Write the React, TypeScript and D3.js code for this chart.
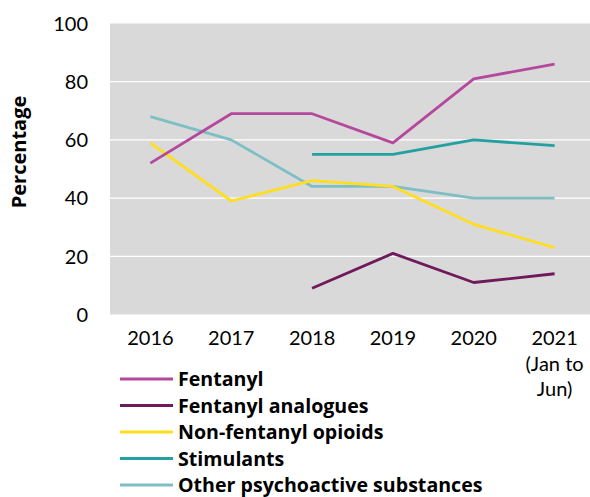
import React, { useEffect, useRef } from 'react';
import * as d3 from 'd3';

const years = ['2016', '2017', '2018', '2019', '2020', '2021'];
const yTicks = [0, 20, 40, 60, 80, 100];

const fentanyl = [52, 69, 69, 59, 81, 86];
const fentanylAnalogues = [null, null, 9, 21, 11, 14];
const nonFentanylOpioids = [59, 39, 46, 44, 31, 23];
const stimulants = [null, null, 55, 55, 60, 58];
const otherPsychoactive = [68, 60, 44, 44, 40, 40];

const seriesNames = ['Fentanyl', 'Fentanyl analogues', 'Non-fentanyl opioids', 'Stimulants', 'Other psychoactive substances'];
const seriesColors = ['#B5489C', '#701A5C', '#FFDE20', '#22A0A2', '#7DBFC4'];

const W = 590;
const H = 497;
const font = 'Lato, "Open Sans", sans-serif';
const boldFont = '"Open Sans", Lato, sans-serif';

export default function App() {
  const svgRef = useRef<SVGSVGElement>(null);

  useEffect(() => {
    if (!svgRef.current) return;
    const svg = d3.select(svgRef.current);
    svg.selectAll('*').remove();

    const margin = { top: 23.5, left: 110, bottom: 314.5 };
    const x = d3.scaleBand<string>().domain(years).range([110, 595]);
    const y = d3.scaleLinear().domain([0, 100]).range([margin.bottom, margin.top]);

    // Plot background
    svg.append('rect')
      .attr('x', margin.left)
      .attr('y', margin.top)
      .attr('width', W - margin.left)
      .attr('height', margin.bottom - margin.top)
      .attr('fill', '#D9D9D9');

    // Gridlines
    svg.selectAll('.grid')
      .data(yTicks.slice(1, -1))
      .enter().append('line')
      .attr('x1', margin.left)
      .attr('x2', W)
      .attr('y1', d => y(d))
      .attr('y2', d => y(d))
      .attr('stroke', '#fff')
      .attr('stroke-width', 1.2);

    // Y tick labels
    svg.selectAll('.ytick')
      .data(yTicks)
      .enter().append('text')
      .attr('x', 88)
      .attr('y', d => y(d))
      .attr('dy', '0.36em')
      .attr('text-anchor', 'end')
      .attr('font-family', font)
      .attr('font-size', 20)
      .attr('fill', '#000')
      .text(d => d);

    // X tick labels
    const xl = svg.selectAll('.xtick')
      .data(years)
      .enter().append('text')
      .attr('text-anchor', 'middle')
      .attr('font-family', font)
      .attr('font-size', 20)
      .attr('fill', '#000')
      .attr('x', d => x(d)! + x.bandwidth() / 2)
      .attr('y', 345);
    xl.each(function (d) {
      const t = d3.select(this);
      t.append('tspan').text(d);
      if (d === '2021') {
        t.append('tspan').attr('x', x(d)! + x.bandwidth() / 2).attr('dy', 25.5).text('(Jan to');
        t.append('tspan').attr('x', x(d)! + x.bandwidth() / 2).attr('dy', 25.5).text('Jun)');
      }
    });

    // Y title
    svg.append('text')
      .attr('transform', 'translate(26,152) rotate(-90)')
      .attr('text-anchor', 'middle')
      .attr('font-family', boldFont)
      .attr('font-weight', 'bold')
      .attr('font-size', 20)
      .attr('fill', '#000')
      .text('Percentage');

    // Lines
    const allSeries = [fentanyl, fentanylAnalogues, nonFentanylOpioids, stimulants, otherPsychoactive];
    const line = d3.line<number | null>()
      .defined(d => d !== null)
      .x((_, i) => x(years[i])! + x.bandwidth() / 2)
      .y(d => y(d as number));

    const drawOrder = [4, 3, 2, 1, 0];
    drawOrder.forEach(i => {
      svg.append('path')
        .datum(allSeries[i])
        .attr('d', line)
        .attr('fill', 'none')
        .attr('stroke', seriesColors[i])
        .attr('stroke-width', 2.8)
        .attr('stroke-linejoin', 'round');
    });

    // Legend
    const legend = svg.selectAll('.legend')
      .data(seriesNames)
      .enter().append('g')
      .attr('transform', (_, i) => `translate(120,${379 + i * 26.5})`);
    legend.append('line')
      .attr('x1', 0)
      .attr('x2', 53)
      .attr('stroke', (_, i) => seriesColors[i])
      .attr('stroke-width', 2.8);
    legend.append('text')
      .attr('x', 58)
      .attr('dy', '0.36em')
      .attr('font-family', boldFont)
      .attr('font-weight', 'bold')
      .attr('font-size', 19.6)
      .attr('fill', '#000')
      .text(d => d);
  }, []);

  return (
    <svg
      ref={svgRef}
      width={W}
      height={H}
      style={{ position: 'absolute', left: 0, top: 0, background: '#fff' }}
    />
  );
}
